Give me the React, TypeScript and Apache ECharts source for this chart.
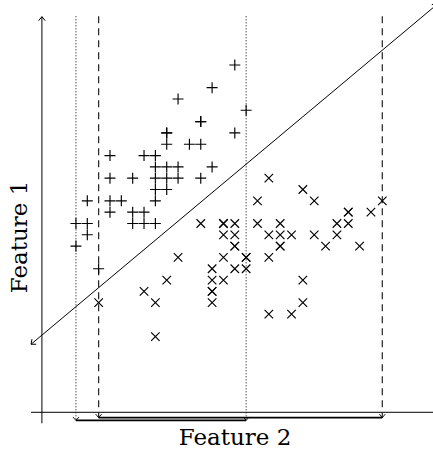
import React, { useEffect, useRef } from "react";
import * as echarts from "echarts";

// Class "+" : Feature 2 (horizontal) and Feature 1 (vertical)
const plusFeature2 = [
  5.7, 5.5, 5.2, 5.8, 5.4, 5.4, 5.1, 5.1, 5.7, 5.1, 5.3, 5.4, 4.6, 4.9, 5.0,
  5.0, 5.1, 5.2, 5.5, 4.6, 4.8, 5.0, 5.1, 5.2, 5.4, 5.0, 5.1, 4.4, 4.6, 4.7,
  5.0, 4.6, 4.8, 4.9, 4.3, 4.4, 4.8, 4.9, 5.0, 4.4, 4.3, 4.5,
];
const plusFeature1 = [
  4.4, 4.2, 4.1, 4.0, 3.9, 3.9, 3.8, 3.8, 3.8, 3.7, 3.7, 3.7, 3.6, 3.6, 3.6,
  3.5, 3.5, 3.5, 3.5, 3.4, 3.4, 3.4, 3.4, 3.4, 3.4, 3.3, 3.3, 3.2, 3.2, 3.2,
  3.2, 3.1, 3.1, 3.1, 3.0, 3.0, 3.0, 3.0, 3.0, 2.9, 2.8, 2.6,
];

// Class "x"
const crossFeature2 = [
  6.0, 6.3, 5.9, 6.4, 7.0, 6.7, 6.7, 6.9, 5.4, 5.6, 5.6, 5.7, 5.9, 6.1, 6.6,
  6.7, 5.6, 5.7, 6.0, 6.1, 6.2, 6.4, 6.6, 5.7, 5.7, 6.1, 6.1, 6.5, 6.8, 5.2,
  5.6, 5.8, 5.8, 6.0, 5.5, 5.7, 5.8, 5.1, 5.5, 5.6, 6.3, 4.9, 5.5, 5.5, 5.0,
  5.5, 6.3, 6.0, 6.2, 5.0, 4.5,
];
const crossFeature1 = [
  3.4, 3.3, 3.2, 3.2, 3.2, 3.1, 3.1, 3.1, 3.0, 3.0, 3.0, 3.0, 3.0, 3.0, 3.0,
  3.0, 2.9, 2.9, 2.9, 2.9, 2.9, 2.9, 2.9, 2.8, 2.8, 2.8, 2.8, 2.8, 2.8, 2.7,
  2.7, 2.7, 2.7, 2.7, 2.6, 2.6, 2.6, 2.5, 2.5, 2.5, 2.5, 2.4, 2.4, 2.4, 2.3,
  2.3, 2.3, 2.2, 2.2, 2.0, 2.3,
];

// Scales and construction lines (data units)
const xAxisRange = [3.6306, 7.4469];
const yAxisRange = [0.9724, 4.9742];
const horizontalAxis = [3.904, 1.332, 7.46, 1.332];
const verticalAxis = [4.0, 1.235, 4.0, 4.827];
const boundaryLine = [3.904, 1.933, 7.482, 4.935];
const projectionTop = 4.83;
const plusBracketLevel = 1.26;
const crossBracketLevel = 1.285;

const zip = (a: number[], b: number[]) => a.map((v, i) => [v, b[i]]);

function chevron(from: number[], tip: number[], len: number, half: number) {
  const dx = tip[0] - from[0];
  const dy = tip[1] - from[1];
  const l = Math.hypot(dx, dy) || 1;
  const ux = dx / l;
  const uy = dy / l;
  const bx = tip[0] - ux * len;
  const by = tip[1] - uy * len;
  return [
    [bx - uy * half, by + ux * half],
    [tip[0], tip[1]],
    [bx + uy * half, by - ux * half],
  ];
}

const INK = "#000";

function segmentRenderer(arrowStart: boolean, arrowEnd: boolean) {
  return (_params: any, api: any) => {
    const p1 = api.coord([api.value(0), api.value(1)]);
    const p2 = api.coord([api.value(2), api.value(3)]);
    const children: any[] = [
      {
        type: "line",
        shape: { x1: p1[0], y1: p1[1], x2: p2[0], y2: p2[1] },
        style: { stroke: INK, lineWidth: 1 },
      },
    ];
    if (arrowEnd)
      children.push({
        type: "polyline",
        shape: { points: chevron(p1, p2, 4, 3.3) },
        style: { stroke: INK, lineWidth: 1, fill: "none" },
      });
    if (arrowStart)
      children.push({
        type: "polyline",
        shape: { points: chevron(p2, p1, 4, 3.3) },
        style: { stroke: INK, lineWidth: 1, fill: "none" },
      });
    return { type: "group", children };
  };
}

function projectionRenderer(dash: number[], color: string, width: number) {
  return (_params: any, api: any) => {
    const xl = api.value(0);
    const xr = api.value(1);
    const level = api.value(2);
    const top = api.value(3);
    const children: any[] = [];
    [xl, xr].forEach((x) => {
      const a = api.coord([x, top]);
      const b = api.coord([x, level]);
      children.push({
        type: "line",
        shape: { x1: a[0], y1: a[1], x2: b[0], y2: b[1] },
        style: { stroke: color, lineWidth: width, lineDash: dash },
      });
      children.push({
        type: "polyline",
        shape: { points: chevron(a, b, 3.5, 3) },
        style: { stroke: INK, lineWidth: 0.9, fill: "none" },
      });
    });
    const l = api.coord([xl, level]);
    const r = api.coord([xr, level]);
    children.push({
      type: "line",
      shape: { x1: l[0], y1: l[1], x2: r[0], y2: r[1] },
      style: { stroke: INK, lineWidth: 1.8 },
    });
    return { type: "group", children };
  };
}

export default function App() {
  const ref = useRef<HTMLDivElement>(null);

  useEffect(() => {
    if (!ref.current) return;
    const chart = echarts.init(ref.current, undefined, { renderer: "svg" });

    const plusMin = Math.min(...plusFeature2);
    const plusMax = Math.max(...plusFeature2);
    const crossMin = Math.min(...crossFeature2);
    const crossMax = Math.max(...crossFeature2);

    const markerStyle = {
      color: "transparent",
      borderColor: INK,
      borderWidth: 1.15,
      opacity: 1,
    };

    chart.setOption({
      animation: false,
      grid: { left: 0, right: 0, top: 0, bottom: 0, containLabel: false },
      xAxis: {
        type: "value",
        min: xAxisRange[0],
        max: xAxisRange[1],
        show: false,
      },
      yAxis: {
        type: "value",
        min: yAxisRange[0],
        max: yAxisRange[1],
        show: false,
      },
      series: [
        {
          type: "custom",
          name: "axes-x",
          silent: true,
          clip: false,
          renderItem: segmentRenderer(false, false),
          data: [horizontalAxis],
          z: 1,
        },
        {
          type: "custom",
          name: "axes-y",
          silent: true,
          clip: false,
          renderItem: segmentRenderer(false, true),
          data: [verticalAxis],
          z: 1,
        },
        {
          type: "custom",
          name: "plus-range",
          silent: true,
          clip: false,
          renderItem: projectionRenderer([1, 2], "#000", 1),
          data: [[plusMin, plusMax, plusBracketLevel, projectionTop]],
          z: 2,
        },
        {
          type: "custom",
          name: "cross-range",
          silent: true,
          clip: false,
          renderItem: projectionRenderer([7, 5], "#222", 1.2),
          data: [[crossMin, crossMax, crossBracketLevel, projectionTop]],
          z: 2,
        },
        {
          type: "custom",
          name: "boundary",
          silent: true,
          clip: false,
          renderItem: segmentRenderer(true, true),
          data: [boundaryLine],
          z: 3,
        },
        {
          type: "scatter",
          name: "+",
          silent: true,
          symbol: "path://M5 0L5 10M0 5L10 5",
          symbolSize: 11,
          itemStyle: markerStyle,
          data: zip(plusFeature2, plusFeature1),
          z: 4,
        },
        {
          type: "scatter",
          name: "x",
          silent: true,
          symbol: "path://M0 0L10 10M10 0L0 10",
          symbolSize: 8.5,
          itemStyle: markerStyle,
          data: zip(crossFeature2, crossFeature1),
          z: 4,
        },
      ],
      graphic: [
        {
          type: "text",
          x: 235,
          y: 437,
          silent: true,
          style: {
            text: "Feature 2",
            font: '23px "DejaVu Serif"',
            fill: INK,
            align: "center",
            verticalAlign: "middle",
          },
        },
        {
          type: "text",
          x: 18.5,
          y: 237,
          rotation: Math.PI / 2,
          silent: true,
          style: {
            text: "Feature 1",
            font: '23px "DejaVu Serif"',
            fill: INK,
            align: "center",
            verticalAlign: "middle",
          },
        },
      ],
    });

    return () => chart.dispose();
  }, []);

  return (
    <div
      ref={ref}
      style={{
        position: "fixed",
        left: 0,
        top: 0,
        width: 433,
        height: 453,
        background: "#fff",
      }}
    />
  );
}
